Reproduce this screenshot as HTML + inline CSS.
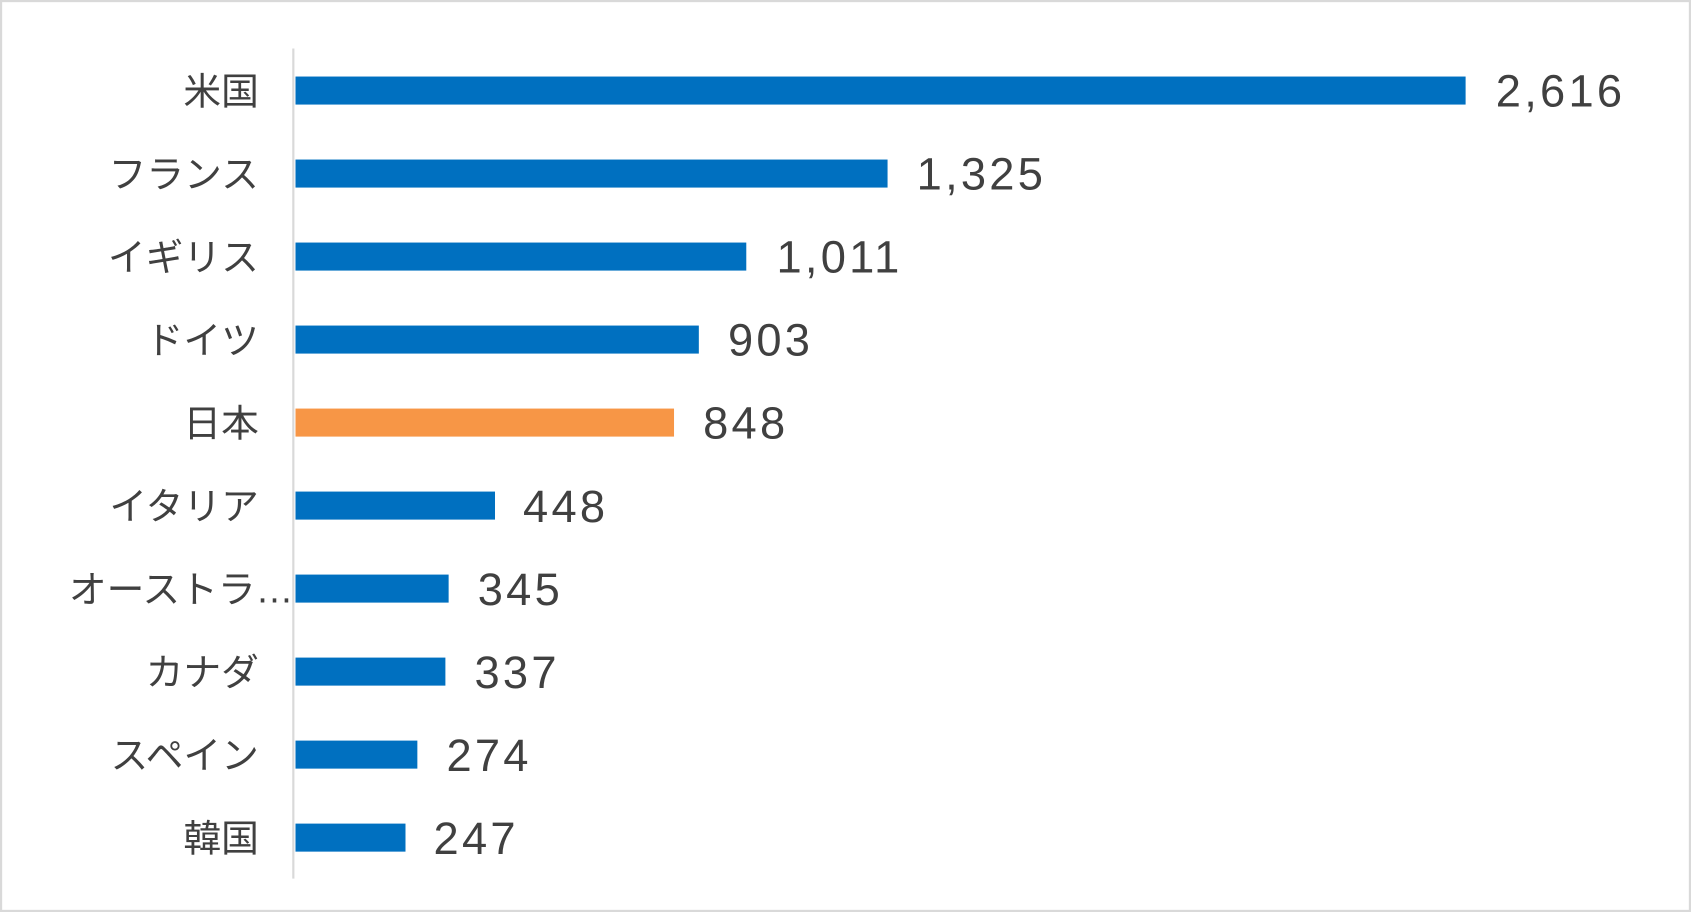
<!DOCTYPE html>
<html><head><meta charset="utf-8"><style>
html,body{margin:0;padding:0;background:#fff;}
svg{display:block;}
text{font-family:"Liberation Sans","Noto Sans CJK JP",sans-serif;fill:#404040;}
</style></head><body>
<svg width="1691" height="912" viewBox="0 0 1568 846" preserveAspectRatio="none">
<rect x="1" y="1" width="1566" height="844" fill="#fff" stroke="#d9d9d9" stroke-width="2"/>
<line x1="272" y1="45" x2="272" y2="815" stroke="#d9d9d9" stroke-width="2"/>
<g>
<rect x="274" y="71" width="1085" height="26" fill="#0070c0"/>
<rect x="274" y="148" width="549" height="26" fill="#0070c0"/>
<rect x="274" y="225" width="418" height="26" fill="#0070c0"/>
<rect x="274" y="302" width="374" height="26" fill="#0070c0"/>
<rect x="274" y="379" width="351" height="26" fill="#f79646"/>
<rect x="274" y="456" width="185" height="26" fill="#0070c0"/>
<rect x="274" y="533" width="142" height="26" fill="#0070c0"/>
<rect x="274" y="610" width="139" height="26" fill="#0070c0"/>
<rect x="274" y="687" width="113" height="26" fill="#0070c0"/>
<rect x="274" y="764" width="102" height="26" fill="#0070c0"/>
</g>
<g font-size="35" text-anchor="end">
<text x="240" y="97">米国</text>
<text x="240" y="174">フランス</text>
<text x="240" y="251">イギリス</text>
<text x="240" y="328">ドイツ</text>
<text x="240" y="405">日本</text>
<text x="240" y="482">イタリア</text>
<text x="272" y="559">オーストラ…</text>
<text x="240" y="636">カナダ</text>
<text x="240" y="713">スペイン</text>
<text x="240" y="790">韓国</text>
</g>
<g font-size="42" letter-spacing="3">
<text x="1387" y="99">2,616</text>
<text x="850" y="176">1,325</text>
<text x="720" y="253">1,011</text>
<text x="675" y="330">903</text>
<text x="652" y="407">848</text>
<text x="485" y="484">448</text>
<text x="443" y="561">345</text>
<text x="440" y="638">337</text>
<text x="414" y="715">274</text>
<text x="402" y="792">247</text>
</g>
</svg>
</body></html>
